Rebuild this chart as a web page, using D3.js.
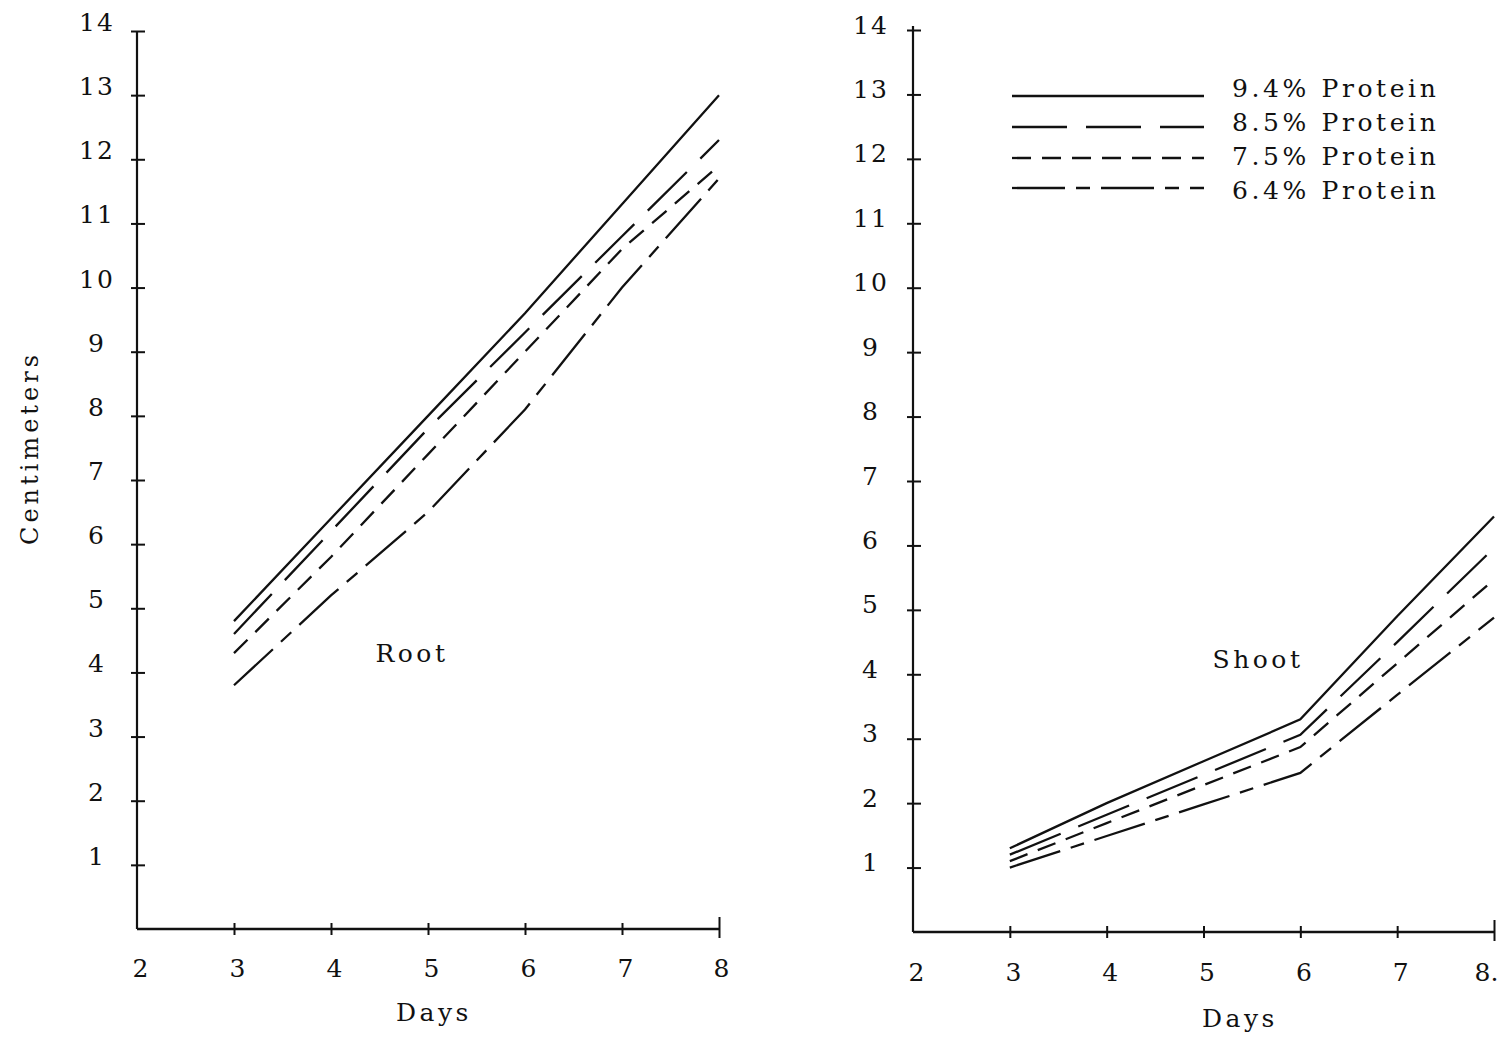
<!DOCTYPE html>
<html>
<head>
<meta charset="utf-8">
<script src="https://cdn.jsdelivr.net/npm/d3@7"></script>
<style>
  html, body { margin: 0; padding: 0; background: #fff; }
  svg { display: block; }
  text { font-family: "DejaVu Serif", "Liberation Serif", serif; fill: #111; }
</style>
</head>
<body>
<svg id="chart" width="1500" height="1037"></svg>
<script>
// ---- data ----
const days = [3, 4, 5, 6, 7, 8];
const seriesNames = ["9.4% Protein", "8.5% Protein", "7.5% Protein", "6.4% Protein"];
const root94 = [4.8, 6.4, 8.0, 9.6, 11.3, 13.0];
const root85 = [4.6, 6.2, 7.8, 9.3, 10.8, 12.3];
const root75 = [4.3, 5.8, 7.4, 9.0, 10.6, 11.9];
const root64 = [3.8, 5.2, 6.5, 8.1, 10.0, 11.7];
const shoot94 = [1.3, 2.0, 2.65, 3.3, 4.9, 6.45];
const shoot85 = [1.2, 1.82, 2.44, 3.06, 4.5, 5.96];
const shoot75 = [1.1, 1.69, 2.28, 2.87, 4.17, 5.47];
const shoot64 = [1.0, 1.49, 1.98, 2.47, 3.68, 4.88];
const xTicks = [2, 3, 4, 5, 6, 7, 8];
const xTickLabelsLeft = ["2", "3", "4", "5", "6", "7", "8"];
const xTickLabelsRight = ["2", "3", "4", "5", "6", "7", "8."];
const yTicks = [1, 2, 3, 4, 5, 6, 7, 8, 9, 10, 11, 12, 13, 14];

// ---- styles ----
const dashes = [null, "55,19", "19,11", "53,11,14,11"];
const svg = d3.select("#chart");
const FONT = '"DejaVu Serif", serif';

function panel(opts) {
  const x = d3.scaleLinear().domain([2, 8]).range([opts.x0, opts.x1]);
  const y = d3.scaleLinear().domain([0, 14]).range([opts.y0, opts.y1]);
  const g = svg.append("g");

  // y axis: left part with labels
  const yl = g.append("g").attr("transform", `translate(${opts.x0},0)`)
    .call(d3.axisLeft(y).tickValues(yTicks).tickSize(6).tickFormat(d3.format("d")));
  yl.select(".domain").remove();
  yl.selectAll("line").attr("stroke", "#111").attr("stroke-width", 2);
  yl.selectAll("text")
    .attr("x", opts.labelX - opts.x0)
    .attr("dy", opts.labelDy)
    .attr("text-anchor", "middle")
    .style("font-size", "25px")
    .style("letter-spacing", "2px")
    .style("font-family", FONT);
  // y axis: right part of crossing ticks
  const yr = g.append("g").attr("transform", `translate(${opts.x0},0)`)
    .call(d3.axisRight(y).tickValues(yTicks).tickSize(8).tickFormat(""));
  yr.select(".domain").remove();
  yr.selectAll("line").attr("stroke", "#111").attr("stroke-width", 2);
  g.append("line").attr("x1", opts.x0).attr("x2", opts.x0)
    .attr("y1", y(14) - opts.topExtra).attr("y2", y(0))
    .attr("stroke", "#111").attr("stroke-width", 2.2);

  // x axis
  const xb = g.append("g").attr("transform", `translate(0,${opts.y0})`)
    .call(d3.axisBottom(x).tickValues(xTicks).tickSize(6)
      .tickFormat((d, i) => opts.xLabels[i]));
  xb.select(".domain").remove();
  xb.selectAll("line").attr("stroke", "#111").attr("stroke-width", 2)
    .attr("y1", d => d === 8 ? -12 : -6).attr("y2", d => d === 8 ? 9 : 6)
    .attr("opacity", d => d === 2 ? 0 : 1);
  xb.selectAll("text")
    .attr("y", opts.xLabelY)
    .attr("dy", 0)
    .attr("dx", d => d === 8 ? opts.lastDx : 3)
    .style("font-size", "25px")
    .style("font-family", FONT);
  g.append("line").attr("x1", opts.x0).attr("x2", opts.x1)
    .attr("y1", y(0)).attr("y2", y(0))
    .attr("stroke", "#111").attr("stroke-width", 2.6);

  // lines
  const line = d3.line().x((d, i) => x(days[i])).y(d => y(d));
  opts.data.forEach((vals, k) => {
    g.append("path").datum(vals)
      .attr("d", line)
      .attr("fill", "none")
      .attr("stroke", "#111")
      .attr("stroke-width", 2.3)
      .attr("stroke-dasharray", dashes[k]);
  });

  // panel label
  g.append("text").attr("x", opts.nameX).attr("y", opts.nameY)
    .attr("text-anchor", "middle")
    .style("font-size", "25px").style("letter-spacing", "3.5px")
    .text(opts.name);

  // x title
  g.append("text").attr("x", opts.daysX).attr("y", opts.daysY)
    .attr("text-anchor", "middle")
    .style("font-size", "25px").style("letter-spacing", "3.5px")
    .text("Days");
  return { x, y, g };
}

panel({
  x0: 137, x1: 719, y0: 929, y1: 31, topExtra: 0,
  labelX: 97, labelDy: "-0.02em", xLabelY: 48, lastDx: 2, xLabels: xTickLabelsLeft,
  data: [root94, root85, root75, root64],
  name: "Root", nameX: 412, nameY: 662, daysX: 434, daysY: 1021
});

panel({
  x0: 913, x1: 1494, y0: 932, y1: 30, topExtra: 4,
  labelX: 871, labelDy: "0.12em", xLabelY: 49, lastDx: -8, xLabels: xTickLabelsRight,
  data: [shoot94, shoot85, shoot75, shoot64],
  name: "Shoot", nameX: 1258, nameY: 668, daysX: 1240, daysY: 1027
});

// y title
svg.append("text")
  .attr("transform", "translate(38,448) rotate(-90)")
  .attr("text-anchor", "middle")
  .style("font-size", "24px").style("letter-spacing", "4px")
  .text("Centimeters");

// legend
const legend = svg.append("g");
const legendLineY = [96, 127, 158, 188];
const legendTextY = [97, 131, 165, 199];
seriesNames.forEach((name, k) => {
  legend.append("line")
    .attr("x1", 1012).attr("x2", 1204)
    .attr("y1", legendLineY[k]).attr("y2", legendLineY[k])
    .attr("stroke", "#111").attr("stroke-width", 2.3)
    .attr("stroke-dasharray", dashes[k]);
  legend.append("text")
    .attr("x", 1232).attr("y", legendTextY[k])
    .style("font-size", "25px").style("letter-spacing", "3.6px")
    .text(name);
});
</script>
</body>
</html>
